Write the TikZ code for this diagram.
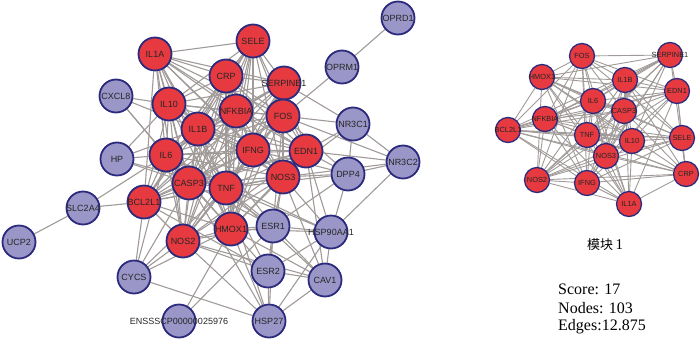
\documentclass[tikz,border=0pt]{standalone}
\usepackage{fontspec}
\setmainfont{Liberation Serif}
\setsansfont{Liberation Sans}
\newfontfamily\cjk{Noto Sans CJK SC}
\usetikzlibrary{backgrounds}
\definecolor{nred}{HTML}{E63A40}
\definecolor{nblue}{HTML}{9A96C8}
\definecolor{nborder}{HTML}{2C2A7C}
\definecolor{edgec}{HTML}{A09A98}
\newcommand\zl[1]{\makebox[0pt][c]{#1}}
\tikzset{
 gn/.style={circle, draw=nborder, line width=1.8pt, minimum size=33pt, inner sep=0pt,
   font=\sffamily\fontsize{9}{9}\selectfont, text=black!85},
 rn/.style={gn, fill=nred},
 bn/.style={gn, fill=nblue},
 sn/.style={circle, draw=nborder, line width=1.3pt, minimum size=25pt, inner sep=0pt,
   fill=nred, font=\sffamily\fontsize{7.4}{7.4}\selectfont, text=black!85},
 ed/.style={draw=edgec, line width=1.1pt},
 sed/.style={draw=edgec, line width=0.9pt},
 info/.style={font=\fontsize{16}{16}\selectfont, anchor=west, inner sep=0pt}
}
\begin{document}
\begin{tikzpicture}[x=1pt,y=-1pt]
\useasboundingbox (0,0) rectangle (700,340);
% ---- left network: red nodes
\node[rn] (IL1A) at (155,54) {\zl{IL1A}};
\node[rn] (SELE) at (253,41) {\zl{SELE}};
\node[rn] (CRP) at (226,76) {\zl{CRP}};
\node[rn] (SERPINE1) at (284,83) {\zl{SERPINE1}};
\node[rn] (IL10) at (169,104) {\zl{IL10}};
\node[rn] (NFKBIA) at (236,111) {\zl{NFKBIA}};
\node[rn] (FOS) at (283,116) {\zl{FOS}};
\node[rn] (IL1B) at (198,129) {\zl{IL1B}};
\node[rn] (IL6) at (166,155) {\zl{IL6}};
\node[rn] (IFNG) at (253,150) {\zl{IFNG}};
\node[rn] (EDN1) at (306,151) {\zl{EDN1}};
\node[rn] (CASP3) at (189,183) {\zl{CASP3}};
\node[rn] (TNF) at (226,188) {\zl{TNF}};
\node[rn] (NOS3) at (283,177) {\zl{NOS3}};
\node[rn] (BCL2L1) at (144,202) {\zl{BCL2L1}};
\node[rn] (HMOX1) at (231,229) {\zl{HMOX1}};
\node[rn] (NOS2) at (183,241) {\zl{NOS2}};
% ---- left network: blue nodes
\node[bn] (OPRD1) at (398,18) {\zl{OPRD1}};
\node[bn] (OPRM1) at (342,67) {\zl{OPRM1}};
\node[bn] (CXCL8) at (116,96) {\zl{CXCL8}};
\node[bn] (HP) at (117,159) {\zl{HP}};
\node[bn] (NR3C1) at (353,124) {\zl{NR3C1}};
\node[bn] (NR3C2) at (403,162) {\zl{NR3C2}};
\node[bn] (DPP4) at (348,174) {\zl{DPP4}};
\node[bn] (SLC2A4) at (83,208) {\zl{SLC2A4}};
\node[bn] (UCP2) at (19,242) {\zl{UCP2}};
\node[bn] (ESR1) at (273,226) {\zl{ESR1}};
\node[bn] (HSP90AA1) at (331,232) {\zl{HSP90AA1}};
\node[bn] (ESR2) at (268,271) {\zl{ESR2}};
\node[bn] (CAV1) at (325,280) {\zl{CAV1}};
\node[bn] (CYCS) at (134,277) {\zl{CYCS}};
\node[bn] (HSP27) at (269,321) {\zl{HSP27}};
\node[bn] (ens) at (179,321) {\zl{ENSSSCP00000025976}};
% ---- right module
\node[sn] (rFOS) at (582,56) {\zl{FOS}};
\node[sn] (rSERPINE1) at (670,55) {\zl{SERPINE1}};
\node[sn] (rHMOX1) at (542,77) {\zl{HMOX1}};
\node[sn] (rIL1B) at (625,80) {\zl{IL1B}};
\node[sn] (rEDN1) at (677,91) {\zl{EDN1}};
\node[sn] (rIL6) at (593,101) {\zl{IL6}};
\node[sn] (rCASP3) at (624,111) {\zl{CASP3}};
\node[sn] (rNFKBIA) at (545,119) {\zl{NFKBIA}};
\node[sn] (rBCL2L1) at (508,130) {\zl{BCL2L1}};
\node[sn] (rTNF) at (587,135) {\zl{TNF}};
\node[sn] (rIL10) at (632,141) {\zl{IL10}};
\node[sn] (rSELE) at (682,138) {\zl{SELE}};
\node[sn] (rNOS3) at (606,156) {\zl{NOS3}};
\node[sn] (rNOS2) at (537,180) {\zl{NOS2}};
\node[sn] (rIFNG) at (587,183) {\zl{IFNG}};
\node[sn] (rCRP) at (686,174) {\zl{CRP}};
\node[sn] (rIL1A) at (629,204) {\zl{IL1A}};
% ---- texts
\node[inner sep=0pt] (title) at (605,245) {{\cjk\fontsize{13}{13}\selectfont 模块} \fontsize{15}{15}\selectfont 1};
\node[info] (score) at (558,289) {Score: 17};
\node[info] (nodes) at (558,308) {Nodes: 103};
\node[info] (edges) at (558,327) {Edges:12.875};
% ---- edges
\begin{pgfonlayer}{background}
\foreach \a [count=\i] in {IL1A,SELE,CRP,SERPINE1,IL10,NFKBIA,FOS,IL1B,IL6,IFNG,EDN1,CASP3,TNF,NOS3,BCL2L1,HMOX1,NOS2}{
  \foreach \b [count=\j] in {IL1A,SELE,CRP,SERPINE1,IL10,NFKBIA,FOS,IL1B,IL6,IFNG,EDN1,CASP3,TNF,NOS3,BCL2L1,HMOX1,NOS2}{
    \ifnum\j>\i\relax \draw[ed] (\a) -- (\b); \fi
  }
}
\foreach \a/\b in {OPRD1/OPRM1, OPRM1/FOS, UCP2/SLC2A4, SLC2A4/BCL2L1, SLC2A4/IL6,
  CXCL8/IL10, CXCL8/IL1B, CXCL8/IL6, CXCL8/CASP3,
  HP/IL10, HP/IL6, HP/CASP3, HP/TNF, HP/IL1B,
  CYCS/BCL2L1, CYCS/CASP3, CYCS/IL6, CYCS/NOS2, CYCS/HMOX1, CYCS/HSP27, CYCS/TNF,
  ens/HMOX1, ens/ESR1,
  NR3C1/FOS, NR3C1/SERPINE1, NR3C1/EDN1, NR3C1/DPP4, NR3C1/NOS3, NR3C1/NR3C2,
  NR3C2/FOS, NR3C2/EDN1, NR3C2/DPP4, NR3C2/HSP90AA1, NR3C2/NOS3,
  DPP4/NOS3, DPP4/EDN1, DPP4/HSP90AA1, DPP4/FOS, DPP4/ESR1, DPP4/IFNG, DPP4/TNF,
  HSP90AA1/ESR1, HSP90AA1/CAV1, HSP90AA1/ESR2, HSP90AA1/NOS3, HSP90AA1/TNF,
  HSP90AA1/HMOX1, HSP90AA1/EDN1, HSP90AA1/IL6, HSP90AA1/HSP27,
  ESR1/ESR2, ESR1/CAV1, ESR1/HSP27, ESR1/TNF, ESR1/NOS3, ESR1/HMOX1, ESR1/IL6,
  ESR1/IL1B, ESR1/FOS, ESR1/NOS2, ESR1/CASP3,
  ESR2/HSP27, ESR2/CAV1, ESR2/HMOX1, ESR2/NOS2, ESR2/NOS3, ESR2/TNF, ESR2/BCL2L1,
  CAV1/HSP27, CAV1/NOS3, CAV1/NOS2, CAV1/HMOX1, CAV1/EDN1, CAV1/TNF,
  HSP27/HMOX1, HSP27/NOS2, HSP27/CASP3, HSP27/TNF}{
  \draw[ed] (\a) -- (\b);
}
\foreach \a [count=\i] in {rFOS,rSERPINE1,rHMOX1,rIL1B,rEDN1,rIL6,rCASP3,rNFKBIA,rBCL2L1,rTNF,rIL10,rSELE,rNOS3,rNOS2,rIFNG,rCRP,rIL1A}{
  \foreach \b [count=\j] in {rFOS,rSERPINE1,rHMOX1,rIL1B,rEDN1,rIL6,rCASP3,rNFKBIA,rBCL2L1,rTNF,rIL10,rSELE,rNOS3,rNOS2,rIFNG,rCRP,rIL1A}{
    \ifnum\j>\i\relax
      \pgfmathtruncatemacro\k{mod(\i*7+\j*3,5)}
      \ifnum\k>0\relax \draw[sed] (\a) -- (\b); \fi
    \fi
  }
}
\end{pgfonlayer}
\end{tikzpicture}
\end{document}
